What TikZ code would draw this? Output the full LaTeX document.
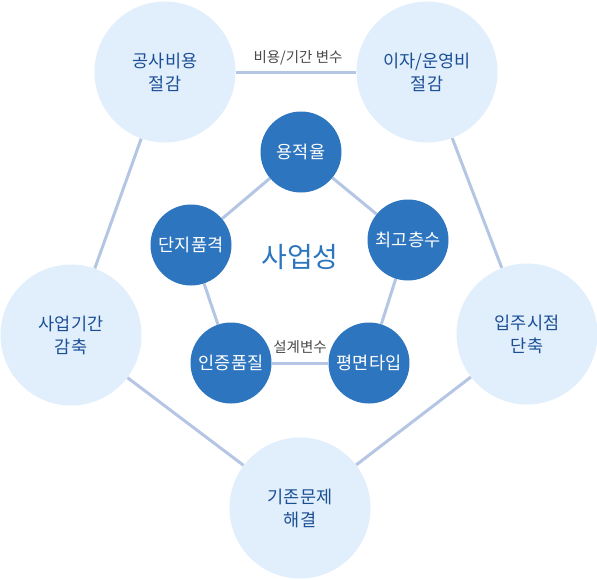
\documentclass[tikz,border=0pt]{standalone}
\usepackage{fontspec}
\setmainfont{Noto Sans CJK KR}
\definecolor{outerfill}{HTML}{E1EEFC}
\definecolor{innerfill}{HTML}{2E75BF}
\definecolor{outertext}{HTML}{1B4F95}
\definecolor{linkcol}{HTML}{B4C6E3}
\definecolor{labgray}{HTML}{4A4A4A}
\pgfdeclarelayer{bg}
\pgfsetlayers{bg,main}
\tikzset{
  outerc/.style={circle,fill=outerfill,minimum size=141pt,inner sep=0pt,align=center,text=outertext,font=\fontsize{17.5}{23}\selectfont},
  innerc/.style={circle,fill=innerfill,minimum size=81pt,inner sep=0pt,align=center,text=white,font=\fontsize{17.5}{20}\selectfont},
  link/.style={draw=linkcol,line width=3pt},
  lab/.style={text=labgray,font=\fontsize{14.5}{16}\selectfont,inner sep=1pt}
}
\begin{document}
\begin{tikzpicture}[x=1pt,y=-1pt]
\useasboundingbox (0,0) rectangle (597,579);
% outer
\node[outerc] (o1) at (165,72) {공사비용\\절감};
\node[outerc] (o2) at (427,72) {이자/운영비\\절감};
\node[outerc] (o3) at (71,335) {사업기간\\감축};
\node[outerc] (o4) at (527,334) {입주시점\\단축};
\node[outerc] (o5) at (300,508) {기존문제\\해결};
% inner
\node[innerc] (i1) at (301,152) {용적율};
\node[innerc] (i2) at (408,240) {최고층수};
\node[innerc] (i3) at (191,245) {단지품격};
\node[innerc] (i4) at (231,363) {인증품질};
\node[innerc] (i5) at (369,363) {평면타입};
\node[text=innerfill,font=\fontsize{28}{32}\selectfont] (c) at (300,257) {사업성};
\begin{pgfonlayer}{bg}
\draw[link] (o1) -- (o2);
\draw[link] (o1) -- (o3);
\draw[link] (o2) -- (o4);
\draw[link] (o3) -- (o5);
\draw[link] (o4) -- (o5);
\draw[link] (i1) -- (i2);
\draw[link] (i1) -- (i3);
\draw[link] (i3) -- (i4);
\draw[link] (i2) -- (i5);
\draw[link] (i4) -- (i5);
\end{pgfonlayer}
\node[lab] (l1) at (298,58) {비용/기간 변수};
\node[lab] (l2) at (300,347) {설계변수};
\end{tikzpicture}
\end{document}
